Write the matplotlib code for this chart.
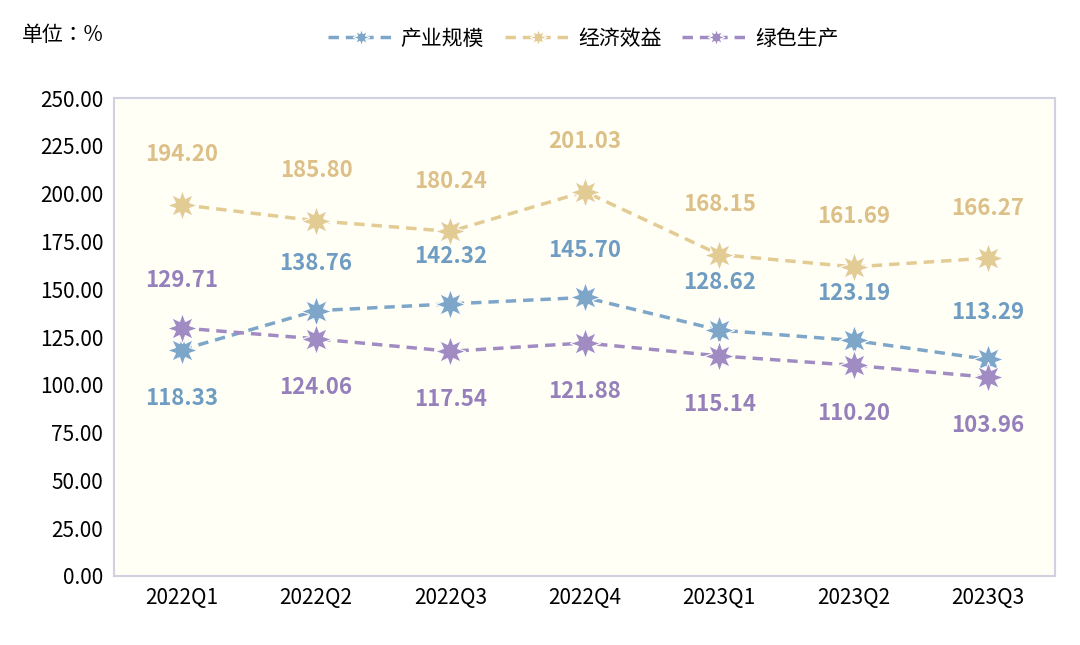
import matplotlib
matplotlib.use("Agg")
import matplotlib.pyplot as plt
from matplotlib import font_manager as fm

cjk = None
for f in fm.findSystemFonts():
    if "NotoSansCJK" in f.replace(" ", "") or "NotoSansSC" in f:
        cjk = f
        break
fam = ["Noto Sans CJK SC", "Noto Sans CJK JP", "DejaVu Sans"]
if cjk:
    fm.fontManager.addfont(cjk)
    fam = [fm.FontProperties(fname=cjk).get_name()] + fam
plt.rcParams['font.family'] = fam

quarters = ["2022Q1", "2022Q2", "2022Q3", "2022Q4", "2023Q1", "2023Q2", "2023Q3"]
scale = [118.33, 138.76, 142.32, 145.70, 128.62, 123.19, 113.29]
benefit = [194.20, 185.80, 180.24, 201.03, 168.15, 161.69, 166.27]
green = [129.71, 124.06, 117.54, 121.88, 115.14, 110.20, 103.96]
names = ["产业规模", "经济效益", "绿色生产"]
yticks = [0, 25, 50, 75, 100, 125, 150, 175, 200, 225, 250]

colors = ["#7EA6C9", "#E3CB94", "#A08BC2"]
tcolors = ["#6F9CC2", "#DCC088", "#9580BB"]

fig = plt.figure(figsize=(10.8, 6.45), dpi=100)
ax = fig.add_axes([0.106, 0.107, 0.871, 0.741])
ax.set_facecolor("#FFFFF6")
x = list(range(len(quarters)))
series = [scale, benefit, green]
for s, c, n in zip(series, colors, names):
    ax.plot(x, s, ls=(0, (3, 2)), lw=2.5, color=c, marker=(8, 1, 0), ms=22,
            mec="#FFFFFF", mew=0.8, label=n)

for i in x:
    for k, s in enumerate(series):
        if k == 1:
            dy = 36
        elif k == 0:
            dy = -35 if i == 0 else 34
        else:
            dy = 34 if i == 0 else -35
        ax.annotate(f"{s[i]:.2f}", (i, s[i]), xytext=(0, dy), textcoords="offset points",
                    ha="center", va="center", fontsize=16, fontweight="bold", color=tcolors[k])

ax.set_xlim(-0.5, 6.5)
ax.set_ylim(0, 250)
ax.set_yticks(yticks)
ax.set_yticklabels([f"{v:.2f}" for v in yticks], fontsize=15)
ax.set_xticks(x)
ax.set_xticklabels(quarters, fontsize=15)
ax.tick_params(length=0, pad=8)
for sp in ax.spines.values():
    sp.set_color("#D0D0E0")
    sp.set_linewidth(1.5)

fig.text(0.02, 0.945, "单位：%", fontsize=15, va="center")
fig.legend(loc="center", bbox_to_anchor=(0.54, 0.94), ncol=3, frameon=False,
           fontsize=15, markerscale=0.55, handlelength=3.2, columnspacing=1.0, handletextpad=0.3)
fig.savefig("out.png", dpi=100)
